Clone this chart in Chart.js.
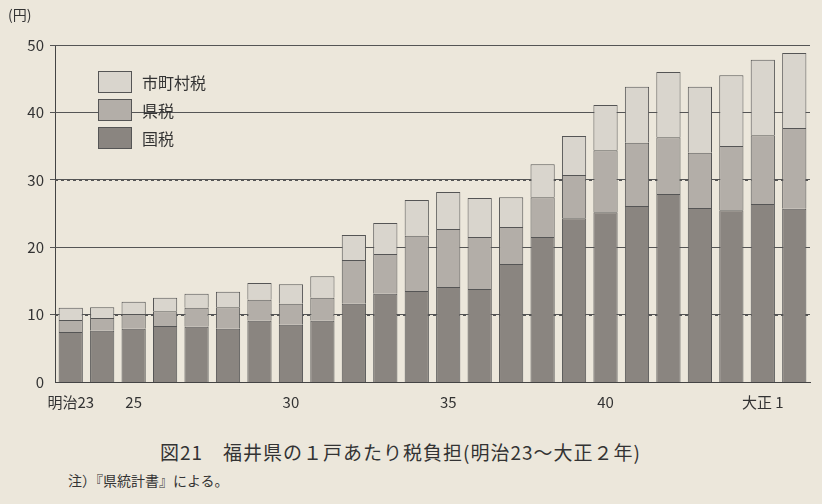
<!DOCTYPE html>
<html><head><meta charset="utf-8">
<script src="https://cdn.jsdelivr.net/npm/chart.js@4"></script>
<style>
body{margin:0;background:#ece7db;font-family:"Noto Sans CJK JP",serif;color:#333;}
#wrap{position:relative;width:822px;height:504px;}
canvas{position:absolute;left:0;top:0;}
.unit{position:absolute;left:8px;top:4px;font-size:14px;}
.legend{position:absolute;left:98px;top:68px;font-size:16px;}
.legend div{height:28px;display:flex;align-items:center;}
.legend span{display:inline-block;width:34px;height:22px;border:1px solid #555;margin-right:10px;box-sizing:border-box;}
.cap{position:absolute;left:160px;top:438px;font-size:19px;letter-spacing:1px;}
.note{position:absolute;left:68px;top:470px;font-size:14px;}
</style></head>
<body><div id="wrap">
<canvas id="c" width="822" height="420"></canvas>
<div class="unit">(円)</div>
<div class="legend">
<div><span style="background:#d9d5cd"></span>市町村税</div>
<div><span style="background:#b3aea8"></span>県税</div>
<div><span style="background:#8a8580"></span>国税</div>
</div>
<div class="cap">図21　福井県の１戸あたり税負担(明治23〜大正２年)</div>
<div class="note">注）『県統計書』による。</div>
</div>
<script>
const years = ['明治23','24','25','26','27','28','29','30','31','32','33','34','35','36','37','38','39','40','41','42','43','44','大正 1','2'];
const shownTicks = ['明治23','25','30','35','40','大正 1'];
const kokuzei = [7.4,7.6,7.9,8.3,8.2,7.9,9.1,8.5,9.1,11.6,13.1,13.5,14.1,13.8,17.5,21.5,24.3,25.2,26.1,27.9,25.8,25.5,26.4,25.7];
const kenzei = [1.8,1.9,2.2,2.2,2.8,3.2,3.1,3.1,3.4,6.5,5.9,8.2,8.6,7.7,5.5,5.9,6.4,9.2,9.4,8.4,8.2,9.5,10.2,12.0];
const shichoson = [1.8,1.6,1.8,2.0,2.1,2.3,2.5,2.9,3.2,3.7,4.6,5.3,5.5,5.8,4.4,4.9,5.8,6.7,8.3,9.7,9.8,10.5,11.2,11.1];
const yTicks = [0,10,20,30,40,50];

const ds = (label, data, color) => ({label, data, backgroundColor: color, borderColor: '#555', borderWidth: 1,
  barPercentage: 0.77, categoryPercentage: 1});

new Chart(document.getElementById('c'), {
  type: 'bar',
  data: { labels: years, datasets: [
    ds('国税', kokuzei, '#8a8580'),
    ds('県税', kenzei, '#b3aea8'),
    ds('市町村税', shichoson, '#d9d5cd')
  ]},
  options: {
    responsive: false, animation: false,
    layout: { padding: { top: 45, right: 12 } },
    plugins: { legend: { display: false }, tooltip: { enabled: false } },
    scales: {
      x: { stacked: true, offset: true,
        grid: { display: false },
        border: { color: '#444', width: 1 },
        afterFit: s => { s.height = 38; },
        ticks: { autoSkip: false, maxRotation: 0, color: '#333', font: { size: 15, family: 'Noto Sans CJK JP' },
          callback: function (v) { const l = this.getLabelForValue(v); return shownTicks.includes(l) ? l : ''; } } },
      y: { stacked: true, min: 0, max: 50,
        afterFit: s => { s.width = 55; },
        afterBuildTicks: s => { s.ticks = yTicks.map(v => ({ value: v })); },
        border: { color: '#444', width: 1 },
        grid: { color: '#555', drawTicks: true, tickLength: 5, lineWidth: c => c.tick.value === 0 ? 0 : 1 },
        ticks: { color: '#333', padding: 6, font: { size: 15, family: 'Noto Sans CJK JP' } } }
    }
  },
  plugins: [{
    id: 'dashGrid',
    beforeDraw(chart) {
      chart.options.scales.y.grid.borderDash = [];
    },
    beforeDatasetsDraw(chart) {
      const { ctx, chartArea: a, scales: { y } } = chart;
      ctx.save(); ctx.setLineDash([3, 3]); ctx.strokeStyle = '#555';
      yTicks.slice(1).forEach(v => { const py = Math.round(y.getPixelForValue(v)) + 0.5;
        ctx.beginPath(); ctx.moveTo(a.left, py); ctx.lineTo(a.right, py); ctx.stroke(); });
      ctx.restore();
    }
  }]
});
</script>
</body></html>
